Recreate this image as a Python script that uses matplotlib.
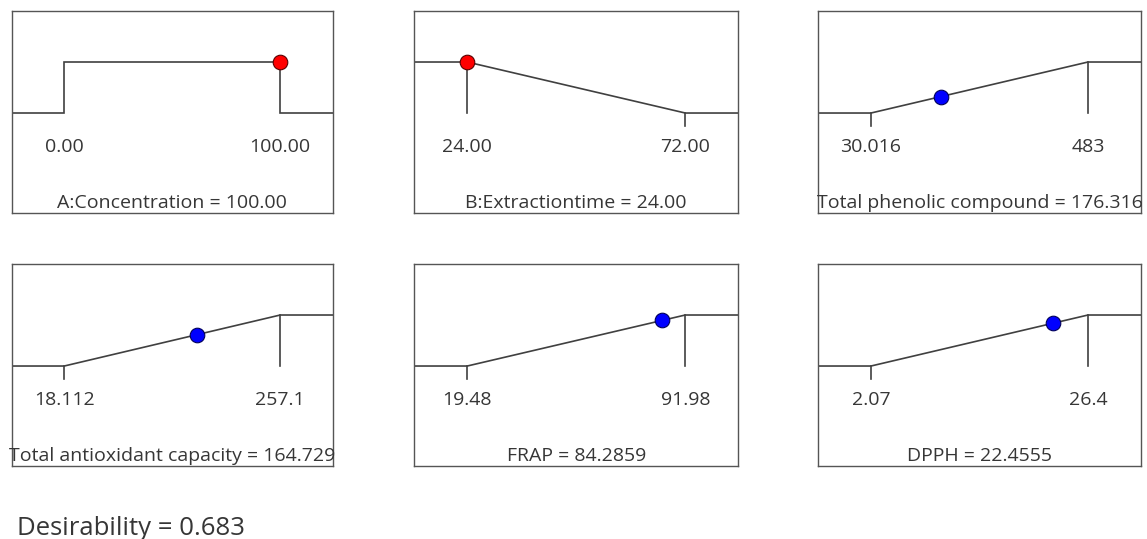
import matplotlib
matplotlib.use("Agg")
import matplotlib.pyplot as plt
import numpy as np

plt.rcParams['font.family'] = ['Open Sans', 'DejaVu Sans']

# ---- data ----
names = ["A:Concentration", "B:Extractiontime", "Total phenolic compound",
         "Total antioxidant capacity", "FRAP", "DPPH"]
lows = [0.00, 24.00, 30.016, 18.112, 19.48, 2.07]
highs = [100.00, 72.00, 483, 257.1, 91.98, 26.4]
low_labels = ["0.00", "24.00", "30.016", "18.112", "19.48", "2.07"]
high_labels = ["100.00", "72.00", "483", "257.1", "91.98", "26.4"]
current = [100.00, 24.00, 176.316, 164.729, 84.2859, 22.4555]
current_labels = ["100.00", "24.00", "176.316", "164.729", "84.2859", "22.4555"]
goals = ["range", "minimize", "maximize", "maximize", "maximize", "maximize"]
is_factor = [True, True, False, False, False, False]
desirability = 0.683

W, H = 1147, 539
fig = plt.figure(figsize=(W / 100, H / 100), dpi=100)

col_x = [(11.5, 333), (414, 738.5), (818, 1141)]
row_y = [(11, 213), (264, 466)]

line_c = "#404040"
txt_c = "#363636"
fs = 14

for i in range(6):
    r, c = divmod(i, 3)
    x0, x1 = col_x[c]
    yt, yb = row_y[r]
    ax = fig.add_axes([x0 / W, 1 - yb / H, (x1 - x0) / W, (yb - yt) / H])
    lo, hi = lows[i], highs[i]
    span = hi - lo
    pad = 53 / 217 * span
    ax.set_xlim(lo - pad, hi + pad)
    ax.set_ylim(-1.96, 2.0)
    ax.set_xticks([]); ax.set_yticks([])
    for s in ax.spines.values():
        s.set_color("#555555"); s.set_linewidth(1.0)

    L, R = lo - pad, hi + pad
    g = goals[i]
    if g == "range":
        xs = [L, lo, lo, hi, hi, R]
        ys = [0, 0, 1, 1, 0, 0]
        ax.plot(xs, ys, color=line_c, lw=1.2, solid_joinstyle='miter')
        fx, fy = [lo, lo, hi, hi], [0, 0, 1, 1]
    elif g == "minimize":
        xs = [L, lo, hi, R]
        ys = [1, 1, 0, 0]
        ax.plot(xs, ys, color=line_c, lw=1.2)
        ax.plot([lo, lo], [1, 0], color=line_c, lw=1.2)
        ax.plot([hi, hi], [0, -0.25], color=line_c, lw=1.2)
        fx, fy = [lo, hi], [1, 0]
    else:
        xs = [L, lo, hi, R]
        ys = [0, 0, 1, 1]
        ax.plot(xs, ys, color=line_c, lw=1.2)
        ax.plot([hi, hi], [1, 0], color=line_c, lw=1.2)
        ax.plot([lo, lo], [0, -0.25], color=line_c, lw=1.2)
        fx, fy = [lo, hi], [0, 1]

    cur = current[i]
    if g == "range":
        dy = 1.0 if lo <= cur <= hi else 0.0
    else:
        dy = np.interp(cur, fx, fy)
    ax.plot([cur], [dy], marker='o', ms=10.5,
            mfc="#ff0000" if is_factor[i] else "#0000ff",
            mec="#5a0000" if is_factor[i] else "#00005a", mew=0.8,
            zorder=5, clip_on=False)

    ax.text(lo, -0.77, low_labels[i], ha='center', va='baseline',
            fontsize=fs, color=txt_c)
    ax.text(hi, -0.77, high_labels[i], ha='center', va='baseline',
            fontsize=fs, color=txt_c)
    ax.text((L + R) / 2, -1.87, f"{names[i]} = {current_labels[i]}",
            ha='center', va='baseline', fontsize=fs, color=txt_c)

fig.text(17 / W, 1 - 535 / H, f"Desirability = {desirability:.3f}",
         ha='left', va='baseline', fontsize=18.5, color=txt_c)

fig.savefig("out.png", dpi=100, facecolor='white')
